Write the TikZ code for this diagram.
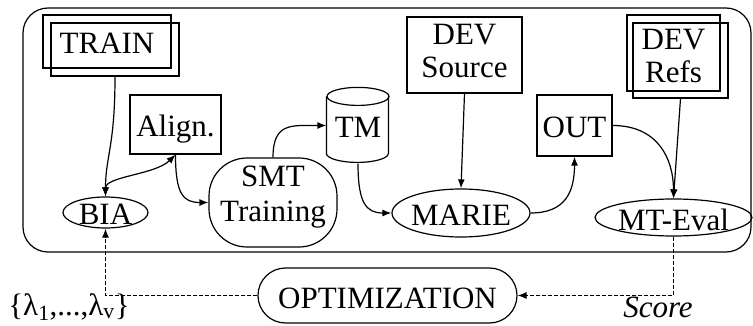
\documentclass[tikz,border=0pt]{standalone}
\usepackage{fontspec}
\setmainfont{Liberation Serif}
\usetikzlibrary{arrows.meta,shapes.geometric,shapes.misc}
\tikzset{
  blk/.style={draw,rectangle,inner sep=0pt,align=center},
  ovl/.style={draw,ellipse,inner xsep=-3pt,inner ysep=-4pt},
  one/.style={text height=25pt,text depth=0pt},
  arr/.style={-{Latex[length=9pt,width=7pt]}},
  arrs/.style={{Latex[length=9pt,width=7pt]}-{Latex[length=9pt,width=7pt]}},
  dsh/.style={dash pattern=on 4pt off 2pt}
}
\begin{document}
\begin{tikzpicture}[x=1pt,y=-1pt,line width=1.2pt,font=\fontsize{31}{33}\selectfont]
  \useasboundingbox (0,0) rectangle (753,326);
  \draw[rounded corners=25pt] (23,8) rectangle (751,252);

  \node[blk,one,minimum width=128,minimum height=53] (train) at (107,41.5) {TRAIN};
  \node[blk,minimum width=128,minimum height=53] (train2) at (115,49.5) {};
  \node[blk,one,minimum width=91,minimum height=59] (align) at (175.5,124.5) {Align.};
  \node[one,inner sep=0pt,minimum width=62,minimum height=75] (tm) at (358,125.5) {TM};
  \draw (tm.north) ++(0,9) ellipse[x radius=31pt,y radius=9pt];
  \draw (tm.north west) ++(0,9) -- ++(0,57) arc[start angle=180,end angle=360,x radius=31pt,y radius=9pt] -- ++(0,-57);
  \node[blk,minimum width=115,minimum height=76] (devsrc) at (464.5,55) {DEV\\Source\rule[-8pt]{0pt}{0pt}};
  \node[blk,one,minimum width=75,minimum height=61] (out) at (574.5,125.5) {OUT};
  \node[blk,minimum width=93,minimum height=76] (devrefs) at (673.5,53) {\rule{0pt}{27pt}DEV\\Refs};
  \node[blk,minimum width=95,minimum height=75] (devrefs2) at (680.5,60.5) {};

  \node[ovl,one,minimum width=85,minimum height=31] (bia) at (105.5,212.5) {BIA};
  \node[draw,rounded corners=38pt,align=center,inner sep=0pt,minimum width=128,minimum height=89] (smt) at (273,202.5) {SMT\\[2pt]Training\rule[-17pt]{0pt}{0pt}};
  \node[ovl,one,minimum width=138,minimum height=48] (marie) at (461,213) {MARIE};
  \node[ovl,one,minimum width=157,minimum height=37] (mteval) at (673.5,217.5) {MT-Eval};
  \node[draw,rounded rectangle,one,inner sep=0pt,minimum width=259,minimum height=55] (optim) at (387.5,295.5) {OPTIMIZATION};
  \node[anchor=base,inner sep=0pt] (lam) at (69,315) {\{λ\textsubscript{1},...,λ\textsubscript{v}\}};
  \node[anchor=base,inner sep=0pt] (score) at (658,317) {\itshape Score};

  \draw[arr] (train2.south) .. controls +(0,70) and +(0,-40) .. (bia.north);
  \draw[arrs] (bia.north) .. controls +(0,-20) and +(-20,20) .. (align.south);
  \draw[arr] (align.south) .. controls +(0,40) and +(-25,0) .. (smt.west);
  \draw[arr] (smt.north) .. controls +(0,-35) and +(-35,0) .. (tm.west);
  \draw[arr] (tm.south) .. controls +(0,40) and +(-25,0) .. (marie.west);
  \draw[arr] (devsrc.south) -- (marie.north);
  \draw[arr] (marie.east) .. controls +(35,0) and +(0,35) .. (out.south);
  \draw[arr] (out.east) .. controls +(45,0) and +(0,-40) .. (mteval.north);
  \draw[arr] (devrefs2.south) -- (mteval.north);
  \draw[arr,dsh] (mteval.south) |- (optim.east);
  \draw[arr,dsh] (optim.west) -| (bia.south);
\end{tikzpicture}
\end{document}
